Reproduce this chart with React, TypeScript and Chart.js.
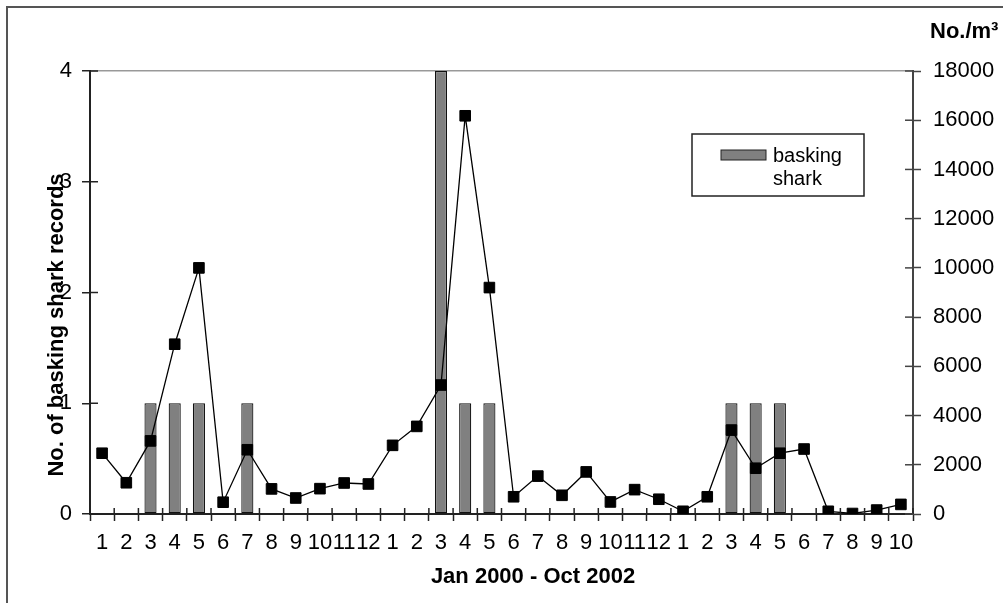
import { useEffect, useRef } from 'react'
import { Chart, registerables } from 'chart.js'

Chart.register(...registerables)

// Jan 2000 - Oct 2002, one label per month
const MONTHS = [
  '1', '2', '3', '4', '5', '6', '7', '8', '9', '10', '11', '12',
  '1', '2', '3', '4', '5', '6', '7', '8', '9', '10', '11', '12',
  '1', '2', '3', '4', '5', '6', '7', '8', '9', '10',
]
const SHARK_RECORDS = [
  0, 0, 1, 1, 1, 0, 1, 0, 0, 0, 0, 0,
  0, 0, 4, 1, 1, 0, 0, 0, 0, 0, 0, 0,
  0, 0, 1, 1, 1, 0, 0, 0, 0, 0,
]
const PLANKTON = [
  2470, 1270, 2970, 6900, 10000, 480, 2610, 1020, 650, 1030, 1260, 1220,
  2790, 3560, 5240, 16180, 9200, 700, 1540, 760, 1710, 490, 990, 600,
  110, 700, 3410, 1860, 2470, 2640, 110, 20, 160, 390,
]
const LEFT_MAX = 4
const LEFT_STEP = 1
const RIGHT_MAX = 18000
const RIGHT_STEP = 2000

const FONT = "'Liberation Sans', Arial, sans-serif"
Chart.defaults.font.family = FONT

const decorations = {
  id: 'decorations',
  afterDraw(chart: any) {
    const { ctx, chartArea: a, scales } = chart
    ctx.save()
    const line = (x1: number, y1: number, x2: number, y2: number) => {
      ctx.beginPath()
      ctx.moveTo(x1, y1)
      ctx.lineTo(x2, y2)
      ctx.stroke()
    }
    // inner halves of the crossing tick marks
    ctx.strokeStyle = '#222'
    ctx.lineWidth = 1.5
    const n = MONTHS.length
    for (let i = 0; i <= n; i++) {
      const px = a.left + ((a.right - a.left) * i) / n
      line(px, a.bottom, px, a.bottom - 6)
    }
    scales.y.ticks.forEach((t: any) => {
      const py = scales.y.getPixelForValue(t.value)
      line(a.left, py, a.left + 8, py)
    })
    ctx.strokeStyle = '#444'
    scales.y1.ticks.forEach((t: any) => {
      const py = scales.y1.getPixelForValue(t.value)
      line(a.right, py, a.right - 8, py)
    })

    // titles
    ctx.fillStyle = '#000'
    ctx.font = `bold 22px ${FONT}`
    ctx.textBaseline = 'alphabetic'
    ctx.textAlign = 'center'
    ctx.fillText('Jan 2000 - Oct 2002', a.left + 443, a.bottom + 69)
    ctx.save()
    ctx.translate(a.left - 27, a.top + 254)
    ctx.rotate(-Math.PI / 2)
    ctx.fillText('No. of basking shark records', 0, 0)
    ctx.restore()
    ctx.textAlign = 'left'
    ctx.fillText('No./m³', a.right + 17, a.top - 33)

    // legend
    const lx = a.right - 221
    const ly = a.top + 63
    ctx.lineWidth = 1.5
    ctx.strokeStyle = '#222'
    ctx.strokeRect(lx, ly, 172, 62)
    ctx.fillStyle = '#808080'
    ctx.fillRect(lx + 29, ly + 16, 45, 10)
    ctx.lineWidth = 1
    ctx.strokeRect(lx + 29, ly + 16, 45, 10)
    ctx.fillStyle = '#000'
    ctx.font = `20px ${FONT}`
    ctx.fillText('basking', lx + 81, ly + 28)
    ctx.fillText('shark', lx + 81, ly + 51)
    ctx.restore()
  },
}

export default function App() {
  const ref = useRef<HTMLCanvasElement>(null)

  useEffect(() => {
    if (!ref.current) return
    const tickFont = { size: 22, family: FONT }
    const chart = new Chart(ref.current, {
      type: 'bar',
      data: {
        labels: MONTHS,
        datasets: [
          {
            type: 'line',
            label: 'No./m³',
            data: PLANKTON,
            yAxisID: 'y1',
            borderColor: '#000',
            borderWidth: 1.3,
            pointStyle: 'rect',
            pointRadius: 7.5,
            pointBackgroundColor: '#000',
            pointBorderColor: '#000',
            pointBorderWidth: 1,
            tension: 0,
            order: 0,
          } as any,
          {
            type: 'bar',
            label: 'basking shark',
            data: SHARK_RECORDS,
            yAxisID: 'y',
            backgroundColor: '#808080',
            borderColor: '#111',
            borderWidth: 1.2,
            borderSkipped: false,
            barPercentage: 0.5,
            categoryPercentage: 1,
            order: 1,
          },
        ],
      },
      options: {
        responsive: true,
        maintainAspectRatio: false,
        animation: false,
        layout: { padding: { top: 71, left: 0, right: 0, bottom: 0 } },
        plugins: { legend: { display: false }, tooltip: { enabled: false } },
        scales: {
          x: {
            afterFit: (s: any) => { s.height = 89 },
            border: { color: '#222', width: 2 },
            grid: { drawOnChartArea: false, tickLength: 7, tickColor: '#222', tickWidth: 1.5 },
            ticks: { autoSkip: false, maxRotation: 0, color: '#000', font: tickFont, padding: 9 },
          },
          y: {
            position: 'left',
            min: 0,
            max: LEFT_MAX,
            afterFit: (s: any) => { s.width = 90 },
            border: { color: '#222', width: 2 },
            grid: {
              drawOnChartArea: true,
              color: (c: any) => (c.tick && c.tick.value === LEFT_MAX ? '#999' : 'transparent'),
              lineWidth: 1.5,
              tickLength: 8,
              tickColor: '#222',
              tickWidth: 1.5,
            },
            ticks: { stepSize: LEFT_STEP, color: '#000', font: tickFont, padding: 10 },
          },
          y1: {
            position: 'right',
            min: 0,
            max: RIGHT_MAX,
            afterFit: (s: any) => { s.width = 90 },
            border: { color: '#444', width: 2 },
            grid: { drawOnChartArea: false, tickLength: 8, tickColor: '#444', tickWidth: 1.5 },
            ticks: { stepSize: RIGHT_STEP, color: '#000', font: tickFont, padding: 12, callback: (v: any) => String(v) },
          },
        },
      },
      plugins: [decorations],
    })
    return () => chart.destroy()
  }, [])

  return (
    <div style={{ position: 'fixed', left: 0, top: 0, width: 1003, height: 603, background: '#fff', overflow: 'hidden' }}>
      <div
        style={{
          position: 'absolute',
          left: 6,
          top: 6,
          width: 1100,
          height: 700,
          borderLeft: '2px solid #555',
          borderTop: '2px solid #555',
        }}
      />
      <div style={{ position: 'absolute', left: 0, top: 0, width: 1003, height: 603 }}>
        <canvas ref={ref} role="img" aria-label="Basking shark records and zooplankton density, Jan 2000 - Oct 2002" />
      </div>
    </div>
  )
}
